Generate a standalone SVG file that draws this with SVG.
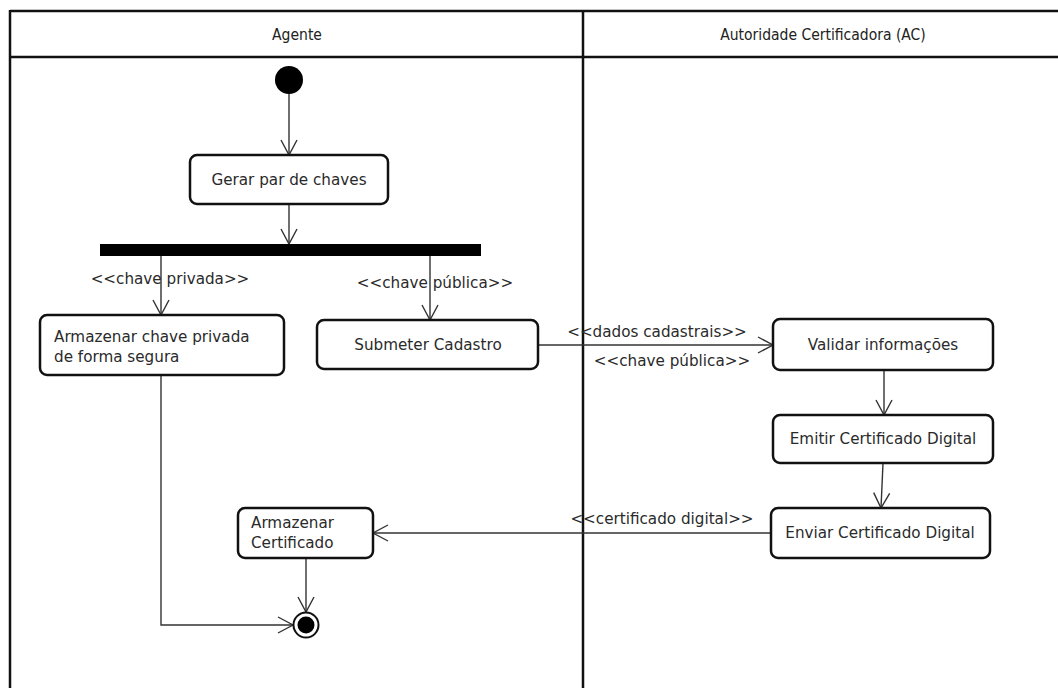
<svg xmlns="http://www.w3.org/2000/svg" width="1058" height="688" viewBox="0 0 1058 688">
  <style>
    .lane { stroke: #111; stroke-width: 2.5; fill: none; }
    .head { font-family: "DejaVu Sans Condensed", "DejaVu Sans", sans-serif; font-size: 15.5px; fill: #222; text-anchor: middle; }
    .node rect.act { fill: #fff; stroke: #111; stroke-width: 2.5; }
    .txt { font-family: "DejaVu Sans", sans-serif; font-size: 15.2px; fill: #2a2a2a; }
    .mid { text-anchor: middle; }
    .flow { stroke: #333; stroke-width: 1.4; fill: none; marker-end: url(#open); }
    .lbl { font-family: "DejaVu Sans", sans-serif; font-size: 15.2px; fill: #2a2a2a; text-anchor: middle; }
  </style>
  <defs>
    <marker id="open" markerUnits="userSpaceOnUse" markerWidth="20" markerHeight="20" viewBox="-16 -10 18 20" refX="0" refY="0" orient="auto">
      <path d="M -15 -8 L 0 0 L -15 8" fill="none" stroke="#333" stroke-width="1.4"/>
    </marker>
  </defs>
  <rect width="1058" height="688" fill="#fff"/>

  <!-- swimlane frame -->
  <g id="lanes">
    <line class="lane" x1="10" y1="11" x2="1058" y2="11"/>
    <line class="lane" x1="10" y1="57" x2="1058" y2="57"/>
    <line class="lane" x1="10" y1="10" x2="10" y2="688"/>
    <line class="lane" x1="583" y1="10" x2="583" y2="688"/>
    <text class="head" x="297" y="40">Agente</text>
    <text class="head" x="823" y="40">Autoridade Certificadora (AC)</text>
  </g>

  <!-- control flows -->
  <g id="connectors">
    <line class="flow" x1="289" y1="94" x2="289" y2="155"/>
    <line class="flow" x1="289" y1="204" x2="289" y2="244"/>
    <line class="flow" x1="161" y1="256" x2="161" y2="315"/>
    <line class="flow" x1="430" y1="256" x2="430" y2="320"/>
    <line class="flow" x1="538" y1="345" x2="773" y2="345"/>
    <line class="flow" x1="884" y1="370" x2="884" y2="415"/>
    <line class="flow" x1="883" y1="463" x2="881" y2="508"/>
    <line class="flow" x1="771" y1="533" x2="373" y2="533"/>
    <line class="flow" x1="306" y1="558" x2="306" y2="612"/>
    <polyline class="flow" points="161,375 161,625 293,625"/>
    <text class="lbl" x="170" y="284">&lt;&lt;chave privada&gt;&gt;</text>
    <text class="lbl" x="435" y="288">&lt;&lt;chave pública&gt;&gt;</text>
    <text class="lbl" x="657" y="337">&lt;&lt;dados cadastrais&gt;&gt;</text>
    <text class="lbl" x="672" y="366">&lt;&lt;chave pública&gt;&gt;</text>
    <text class="lbl" x="662" y="524">&lt;&lt;certificado digital&gt;&gt;</text>
  </g>

  <g id="start" class="node">
    <circle cx="289" cy="80" r="14" fill="#000"/>
  </g>

  <g id="gerar" class="node">
    <rect class="act" x="190" y="155" width="198" height="49" rx="7"/>
    <text class="txt mid" x="289" y="185">Gerar par de chaves</text>
  </g>

  <g id="fork" class="node">
    <rect x="100" y="244" width="381" height="12" fill="#000"/>
  </g>

  <g id="armazenar-chave" class="node">
    <rect class="act" x="40" y="315" width="244" height="60" rx="7"/>
    <text class="txt" x="54" y="342">Armazenar chave privada</text>
    <text class="txt" x="54" y="362">de forma segura</text>
  </g>

  <g id="submeter" class="node">
    <rect class="act" x="317" y="320" width="221" height="49" rx="7"/>
    <text class="txt mid" x="428" y="350">Submeter Cadastro</text>
  </g>

  <g id="validar" class="node">
    <rect class="act" x="773" y="319" width="220" height="51" rx="7"/>
    <text class="txt mid" x="883" y="350">Validar informações</text>
  </g>

  <g id="emitir" class="node">
    <rect class="act" x="773" y="415" width="220" height="48" rx="7"/>
    <text class="txt mid" x="883" y="444">Emitir Certificado Digital</text>
  </g>

  <g id="enviar" class="node">
    <rect class="act" x="771" y="508" width="219" height="50" rx="7"/>
    <text class="txt mid" x="880" y="538">Enviar Certificado Digital</text>
  </g>

  <g id="armazenar-certificado" class="node">
    <rect class="act" x="238" y="508" width="135" height="50" rx="7"/>
    <text class="txt" x="251" y="528">Armazenar</text>
    <text class="txt" x="251" y="548">Certificado</text>
  </g>

  <g id="end" class="node">
    <circle cx="306" cy="625" r="12.5" fill="#fff" stroke="#111" stroke-width="2"/>
    <circle cx="306" cy="625" r="8.5" fill="#000"/>
  </g>
</svg>
